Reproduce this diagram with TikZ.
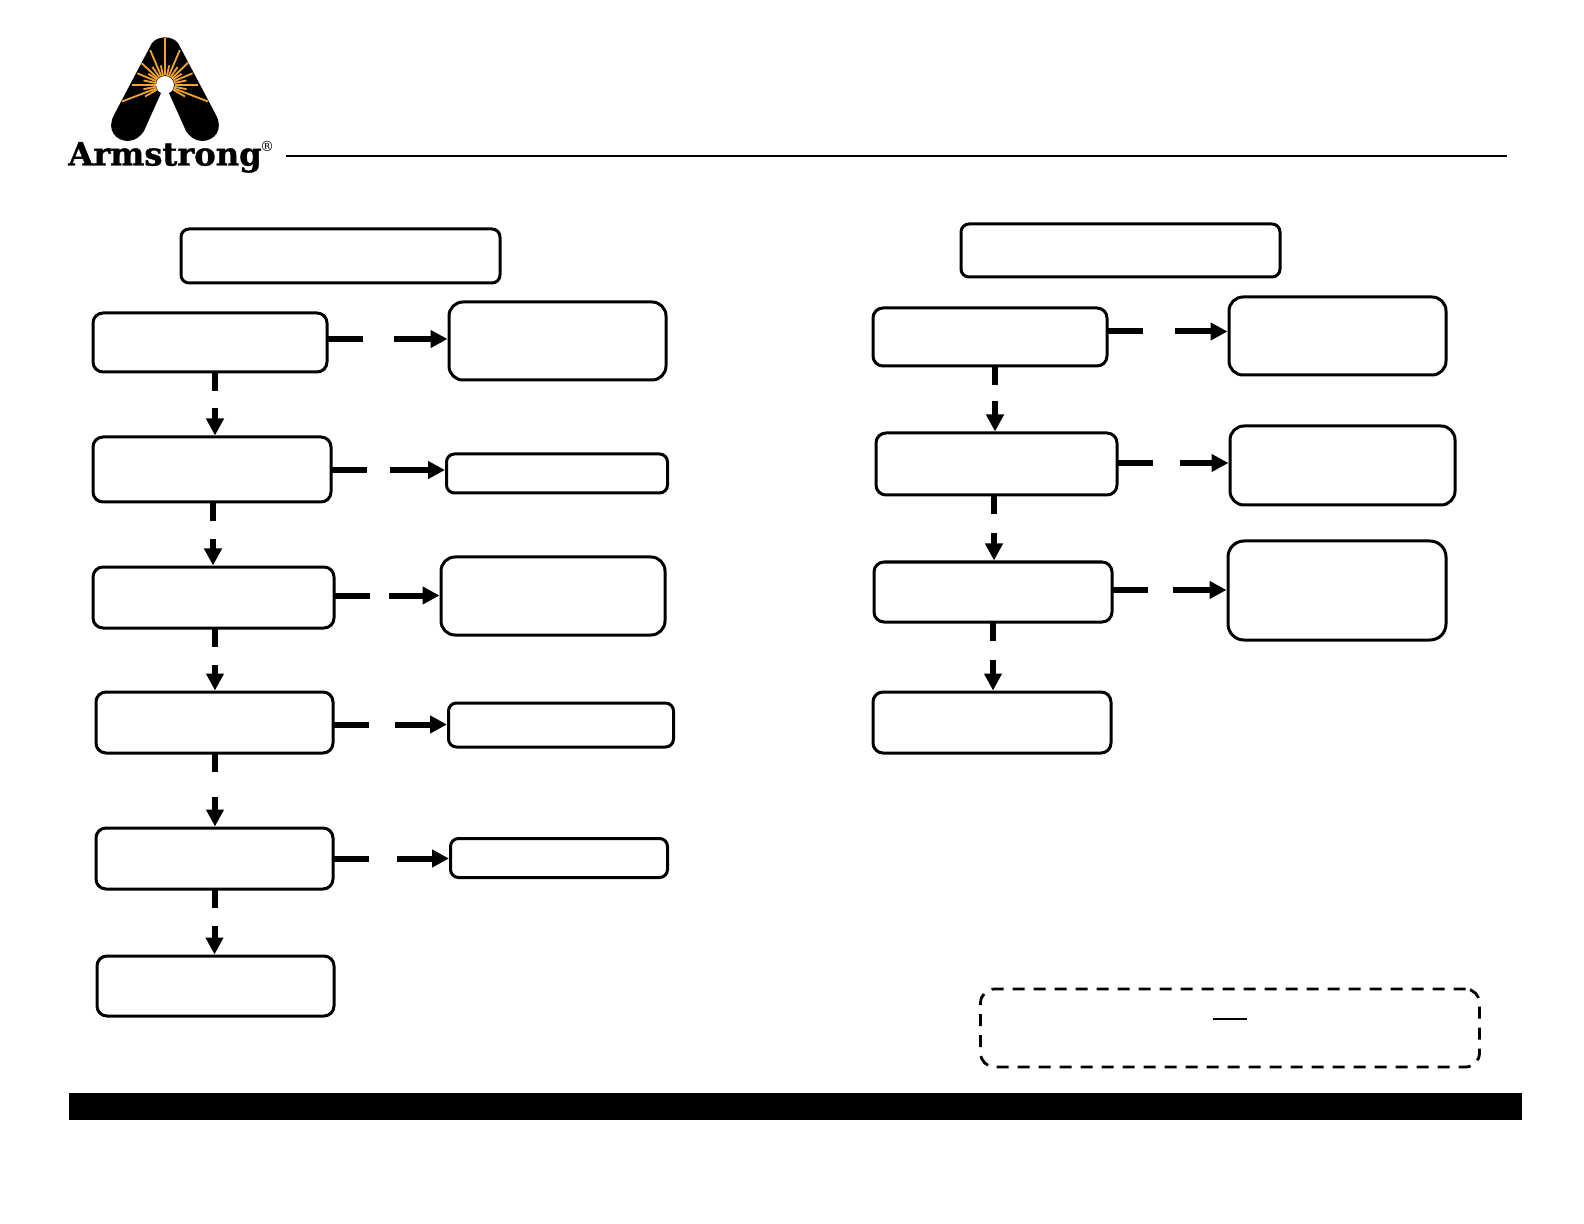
\documentclass[tikz,border=0pt]{standalone}
\usepackage{xcolor}
\usepackage{fontspec}
\usepackage{tikz}
\usetikzlibrary{arrows.meta}
\newfontfamily\logofont[FakeBold=1.2]{DejaVu Serif Bold}
\newfontfamily\markfont{DejaVu Serif}
\definecolor{sunray}{HTML}{F2A32C}

\tikzset{
  flowbox/.style={draw, line width=1.5pt, inner sep=0pt, outer sep=0pt},
  stublink/.style={line width=3pt, shorten >=0.75pt, -{Triangle[length=8.5pt,width=8.5pt]}},
}

\begin{document}
\begin{tikzpicture}[x=0.5pt, y=-0.5pt]
  \useasboundingbox (0,0) rectangle (1584,1224);

  % logo
  \fill (114,115) -- (152,43) .. controls (158,35.5) and (172,35.5) .. (178,43)
    -- (216,115) .. controls (224,130) and (214,141) .. (202,141)
    .. controls (195,141) and (189,136) .. (186,131) -- (169,93) -- (161,93)
    -- (144,131) .. controls (141,136) and (135,141) .. (128,141)
    .. controls (116,141) and (106,130) .. (114,115) -- cycle;
  \fill [white] (165,85) circle (9);
  \begin{scope}[shift={(165,85)}]
    \foreach \ang/\len in {90/47,113/38,67/38,137/32,44/32,157/30,23/30,180/33,0/33,
        201/46,-21/46,210/23,-30/23,102/20,78/20,125/22,55/22,146/20,34/20,168/22,12/22,
        191/22,-11/22}
      \draw [sunray, line width=0.9pt, rotate=\ang] (9.5,0) -- (\len,0);
  \end{scope}
  \node [font=\logofont\fontsize{16.1}{16.1}\selectfont, inner sep=0pt, anchor=base] (logotext)
    at (165,165.5) {Armstrong};
  \node [font=\markfont\fontsize{7}{7}\selectfont, inner sep=0pt] (logomark) at (267,146) {®};
  \draw [line width=0.75pt] (286,156) -- (1507,156);

  % boxes
  \foreach \name/\cx/\cy/\bw/\bh/\rad in {
      ltitle/340.5/256/319/54/4, lone/210/342.5/234/59/5, ltwo/212/469.5/238/65/5,
      lthree/213.5/597.5/241/61/5, lfour/214.5/722.5/237/61/5, lfive/214.5/858.5/237/61/5,
      lsix/215.5/986/237/60/5, lonea/557.5/341/217/78/7, ltwoa/557/473.5/221/39/4,
      lthreea/553/596/224/78/7, lfoura/561/725/225/44/4, lfivea/559/858/217/39/4,
      rtitle/1120.5/250.5/319/53/4, rone/990/337/234/58/5, rtwo/996.5/464/241/62/5,
      rthree/993/592/238/60/5, rfour/992/722.5/238/61/5, ronea/1337.5/336/217/78/7,
      rtwoa/1342.5/465.5/225/79/7, rthreea/1337/590.5/218/99/8}
    \node [flowbox, rounded corners=\rad pt, minimum width=\bw*0.5pt, minimum height=\bh*0.5pt]
      (\name) at (\cx,\cy) {};

  \node [draw, line width=1.4pt, dash pattern=on 6pt off 4.5pt, rounded corners=7pt, inner sep=0pt,
    minimum width=249.5pt, minimum height=39pt] (notebox) at (1230,1028) {};
  \draw [line width=0.85pt] (1213,1019) -- (1247,1019);

  % links down
  \foreach \a/\b/\xpos/\gap in {lone/ltwo/215/8.5, ltwo/lthree/213/9, lthree/lfour/215/9,
      lfour/lfive/215/12.5, lfive/lsix/214.5/9, rone/rtwo/995/8, rtwo/rthree/994/9.5,
      rthree/rfour/993/9.5}
    \draw [stublink, dash pattern=on 9.5pt off \gap pt on 200pt] (\a.south -| \xpos,0) -- (\b.north -| \xpos,0);

  % links across
  \foreach \a/\b/\ypos/\gap in {lone/lonea/339/15.5, ltwo/ltwoa/470/11.5, lthree/lthreea/595.5/9.5,
      lfour/lfoura/724.5/13, lfive/lfivea/858.5/14, rone/ronea/331.5/16, rtwo/rtwoa/463/13.5,
      rthree/rthreea/590/12.5}
    \draw [stublink, dash pattern=on 18pt off \gap pt on 200pt] (\a.east |- 0,\ypos) -- (\b.west |- 0,\ypos);

  % bottom bar
  \fill (69,1093) rectangle (1522,1120);
\end{tikzpicture}
\end{document}
